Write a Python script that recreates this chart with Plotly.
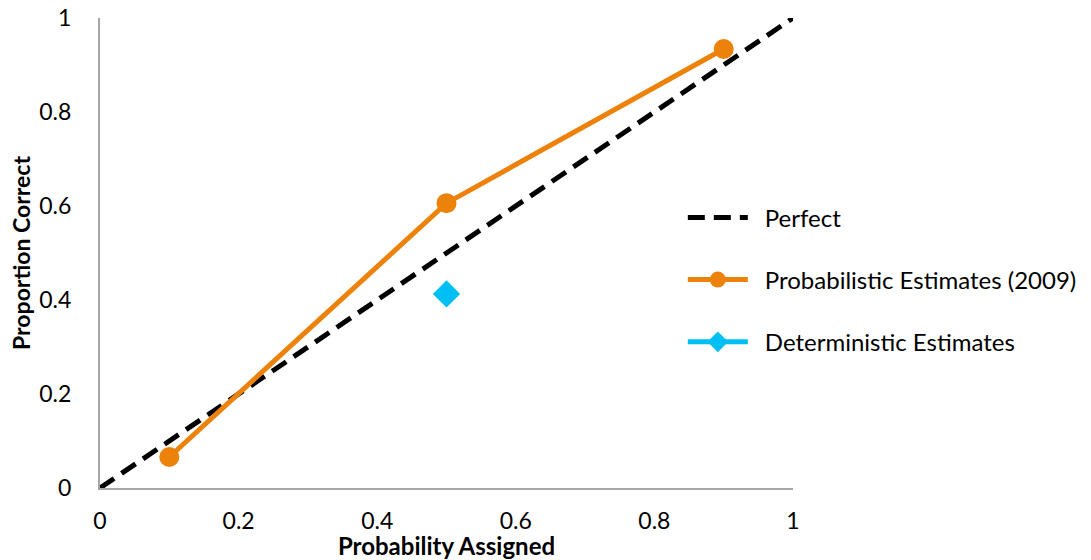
import plotly.graph_objects as go

# Calibration data
perfect_x = [0, 1]
perfect_y = [0, 1]

prob_x = [0.1, 0.5, 0.9]
prob_y = [0.066, 0.606, 0.934]

det_x = [0.5]
det_y = [0.413]

tick_vals = [0, 0.2, 0.4, 0.6, 0.8, 1]
tick_text = ["0", "0.2", "0.4", "0.6", "0.8", "1"]

FONT = "Lato"
ORANGE = "#EC8209"
BLUE = "#00BFF2"
GAP = "\u2002"  # small lead-in between legend swatch and label

fig = go.Figure()

fig.add_trace(go.Scatter(
    x=perfect_x, y=perfect_y, mode="lines", name=GAP + "Perfect",
    line=dict(color="black", width=5, dash="17px,9px"),
    cliponaxis=False, legendgroup="a",
))
fig.add_trace(go.Scatter(
    x=prob_x, y=prob_y, mode="lines+markers", name=GAP + "Probabilistic Estimates (2009)",
    line=dict(color=ORANGE, width=5),
    marker=dict(symbol="circle", size=20, color=ORANGE),
    cliponaxis=False, legendgroup="b",
))
fig.add_trace(go.Scatter(
    x=det_x, y=det_y, mode="lines+markers", name=GAP + "Deterministic Estimates",
    line=dict(color=BLUE, width=5),
    marker=dict(symbol="diamond", size=21, color=BLUE),
    cliponaxis=False, legendgroup="c",
))

axis_common = dict(
    range=[0, 1],
    tickvals=tick_vals,
    ticktext=tick_text,
    showgrid=False,
    zeroline=False,
    showline=True,
    linecolor="#A6A6A6",
    linewidth=2,
    ticks="",
    tickfont=dict(family=FONT, size=23, color="black"),
    automargin=False,
)

fig.update_layout(
    width=1091,
    height=560,
    margin=dict(l=100, r=298, t=18, b=72, autoexpand=False),
    paper_bgcolor="white",
    plot_bgcolor="white",
    font=dict(family=FONT, color="black"),
    xaxis=dict(
        **axis_common,
        ticklabelstandoff=11,
        title=dict(text="<b>Probability Assigned</b>", font=dict(family=FONT, size=24), standoff=5),
    ),
    yaxis=dict(
        **axis_common,
        ticklabelstandoff=22,
        title=dict(text="<b>Proportion Correct</b>", font=dict(family=FONT, size=23), standoff=2),
    ),
    legend=dict(
        x=0.841, xanchor="left", y=0.443, yanchor="middle",
        font=dict(family=FONT, size=24, color="black"),
        traceorder="grouped",
        tracegroupgap=28,
        itemwidth=60,
        bgcolor="rgba(0,0,0,0)",
    ),
    showlegend=True,
)

fig.write_html("out.html")
